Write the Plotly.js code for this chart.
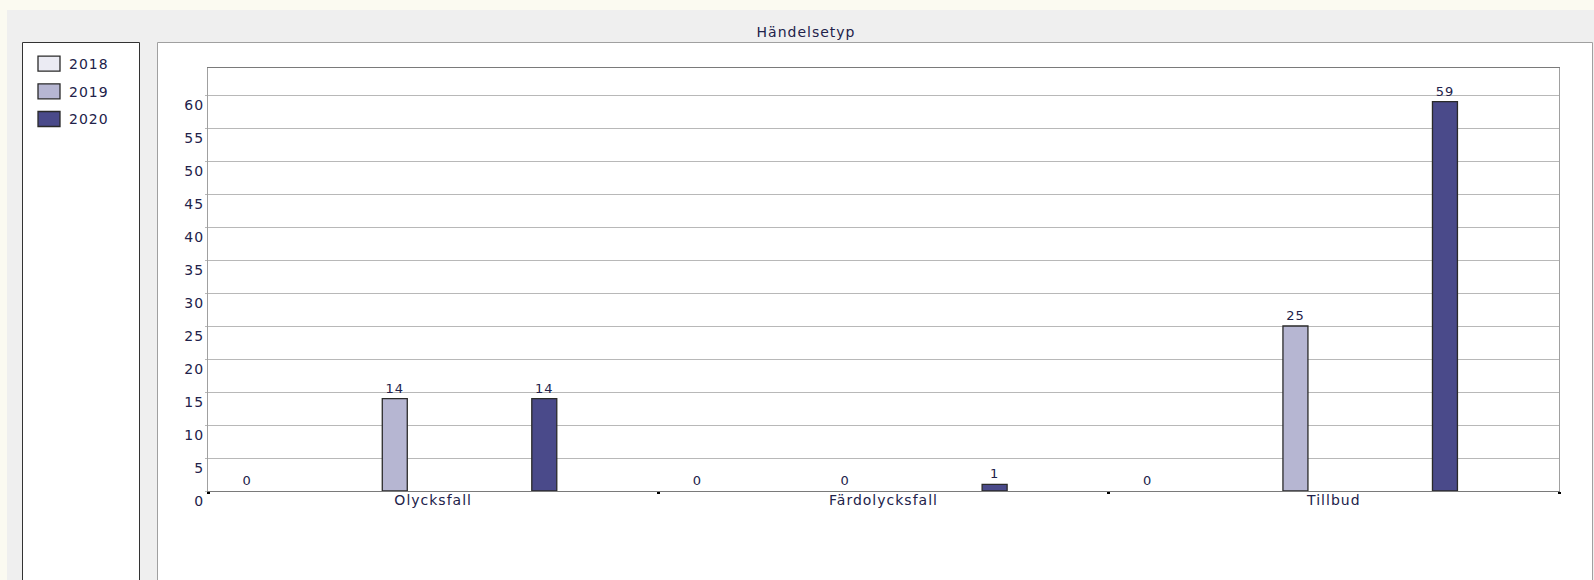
<!DOCTYPE html>
<html>
<head>
<meta charset="utf-8">
<script src="https://cdn.plot.ly/plotly-3.0.1.min.js"></script>
<style>
  html, body { margin: 0; padding: 0; background: #fbfaf1; }
  #chart { width: 1594px; height: 580px; }
  #chart .main-svg text { letter-spacing: 1px; }
</style>
</head>
<body>
<div id="chart"></div>
<script>
// ---- data ----
const categories = ["Olycksfall", "Färdolycksfall", "Tillbud"];
const years = ["2018", "2019", "2020"];
const values2018 = [0, 0, 0];
const values2019 = [14, 0, 25];
const values2020 = [14, 1, 59];
const yTickStep = 5;
const yMax = 64.1;
const chartTitle = "Händelsetyp";

// ---- layout helpers (pixel geometry of the frame) ----
const W = 1594, H = 580;
const plotL = 208, plotR = 1559, plotT = 68, plotB = 491;
const pw = plotR - plotL, ph = plotB - plotT;
const px2x = p => (p - plotL) / pw;
const px2y = p => (plotB - p) / ph;

const colors = ["#ebebf3", "#b6b6d2", "#4a4a8a"];
const barW = 0.0555;
const offsets = [-0.441, -0.113, 0.219];
const textColor = "#22224a";
const font = "DejaVu Sans, Verdana, sans-serif";

const seriesVals = [values2018, values2019, values2020];
const traces = years.map((yr, i) => ({
  type: "bar",
  name: yr,
  legendgroup: yr,
  x: categories,
  y: seriesVals[i],
  width: barW,
  offset: offsets[i],
  marker: {
    color: colors[i],
    line: { color: "#2a2a2a", width: seriesVals[i].map(v => (v === 0 ? 0 : 1.3)) }
  },
  text: seriesVals[i].map(v => String(v)),
  textposition: "outside",
  constraintext: "none",
  cliponaxis: false,
  textfont: { family: font, size: 13, color: textColor },
  hoverinfo: "x+y+name"
}));

const shapes = [
  // grey panel
  { type: "rect", xref: "paper", yref: "paper", layer: "below",
    x0: px2x(7), x1: px2x(1610), y0: px2y(600), y1: px2y(10),
    fillcolor: "#efefef", line: { width: 0 } },
  // chart box
  { type: "rect", xref: "paper", yref: "paper", layer: "below",
    x0: px2x(157.5), x1: px2x(1592.5), y0: px2y(600), y1: px2y(42.5),
    fillcolor: "#ffffff", line: { color: "#a0a0a0", width: 1 } },
  // legend box
  { type: "rect", xref: "paper", yref: "paper", layer: "below",
    x0: px2x(22.5), x1: px2x(139.5), y0: px2y(600), y1: px2y(42.5),
    fillcolor: "#ffffff", line: { color: "#333333", width: 1 } }
];

const layout = {
  width: W, height: H,
  paper_bgcolor: "#fbfaf1",
  plot_bgcolor: "rgba(0,0,0,0)",
  margin: { l: plotL, r: W - plotR, t: plotT, b: H - plotB, pad: 0 },
  font: { family: font, size: 14, color: textColor },
  title: {
    text: chartTitle,
    font: { family: font, size: 14, color: textColor },
    xref: "paper", x: px2x(806), xanchor: "center",
    yref: "container", y: 1 - 32 / H, yanchor: "middle"
  },
  showlegend: true,
  legend: {
    orientation: "v",
    x: px2x(29), xanchor: "left",
    y: px2y(48), yanchor: "top",
    bgcolor: "rgba(0,0,0,0)", borderwidth: 0,
    font: { family: font, size: 14, color: textColor },
    tracegroupgap: 6.5,
    traceorder: "grouped"
  },
  barmode: "group",
  xaxis: {
    type: "category",
    categoryorder: "array", categoryarray: categories,
    range: [-0.5, categories.length - 0.5],
    tickson: "boundaries",
    ticks: "outside", ticklen: 2, tickwidth: 3, tickcolor: "#000000",
    ticklabelstandoff: -4,
    showgrid: false,
    showline: true, linecolor: "#7a7a7a", linewidth: 1, mirror: true,
    tickfont: { family: font, size: 14, color: textColor },
    fixedrange: true
  },
  yaxis: {
    range: [0, yMax],
    tick0: 0, dtick: yTickStep,
    showgrid: true, gridcolor: "#b8b8b8", gridwidth: 1,
    zeroline: false,
    showline: true, linecolor: "#a0a0a0", linewidth: 1, mirror: true,
    ticks: "outside", ticklen: 2, tickcolor: "#b8b8b8",
    ticklabelposition: "outside bottom",
    tickfont: { family: font, size: 14, color: textColor },
    fixedrange: true
  },
  shapes: shapes
};

Plotly.newPlot("chart", traces, layout, { displayModeBar: false, staticPlot: true }).then(gd => {
  // enlarge the legend swatches to the reference's rectangular keys
  gd.querySelectorAll(".legendpoints path").forEach(p => {
    p.setAttribute("d", "M11,7.5H-11V-7.5H11Z");
    p.style.strokeWidth = "1.3px";
    p.style.stroke = "#2a2a2a";
  });
});
</script>
</body>
</html>
